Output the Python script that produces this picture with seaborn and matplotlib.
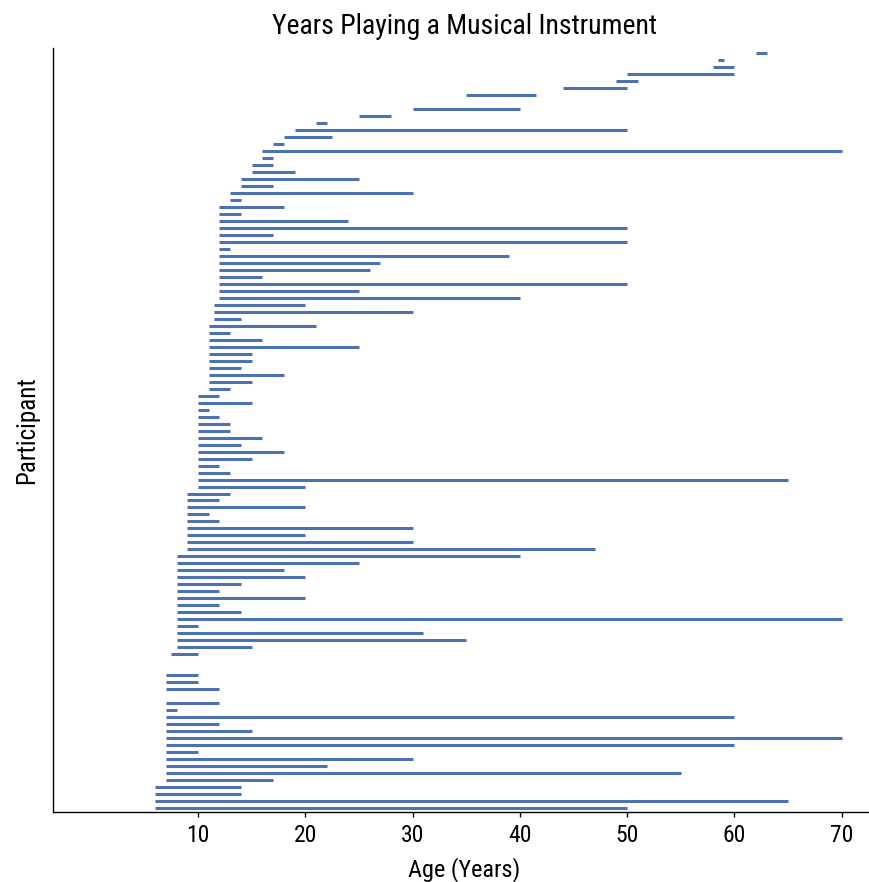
import numpy as np
import pandas as pd
import matplotlib
matplotlib.use("Agg")
import matplotlib.pyplot as plt
import seaborn as sns

# start / stop age for each participant, listed from the top row down
# (nan = participant with no instrument data)
start_age = [62, 58.5, 58, 50, 49, 44, 35, np.nan, 30, 25,
             21, 19, 18, 17, 16, 16, 15, 15, 14, 14,
             13, 13, 12, 12, 12, 12, 12, 12, 12, 12,
             12, 12, 12, 12, 12, 12, 11.5, 11.5, 11.5, 11,
             11, 11, 11, 11, 11, 11, 11, 11, 11, 10,
             10, 10, 10, 10, 10, 10, 10, 10, 10, 10,
             10, 10, 10, 9, 9, 9, 9, 9, 9, 9,
             9, 9, 8, 8, 8, 8, 8, 8, 8, 8,
             8, 8, 8, 8, 8, 8, 7.5, np.nan, np.nan, 7,
             7, 7, np.nan, 7, 7, 7, 7, 7, 7, 7,
             7, 7, 7, 7, 7, 6, 6, 6, 6]
stop_age = [63, 59, 60, 60, 51, 50, 41.5, np.nan, 40, 28,
            22, 50, 22.5, 18, 70, 17, 17, 19, 25, 17,
            30, 14, 18, 14, 24, 50, 17, 50, 13, 39,
            27, 26, 16, 50, 25, 40, 20, 30, 14, 21,
            13, 16, 25, 15, 15, 14, 18, 15, 13, 12,
            15, 11, 12, 13, 13, 16, 14, 18, 15, 12,
            13, 65, 20, 13, 12, 20, 11, 12, 30, 20,
            30, 47, 40, 25, 18, 20, 14, 12, 20, 12,
            14, 70, 10, 31, 35, 15, 10, np.nan, np.nan, 10,
            10, 12, np.nan, 12, 8, 60, 12, 15, 70, 60,
            10, 30, 22, 55, 17, 14, 14, 65, 50]

n = len(start_age)
df = pd.DataFrame({
    'participant': np.arange(n)[::-1],  # bottom row = participant 0
    'start': start_age,
    'stop': stop_age,
})

sns.set_style("ticks")
plt.rcParams['font.family'] = ['Roboto Condensed', 'Liberation Sans Narrow', 'Roboto', 'DejaVu Sans']
plt.rcParams['text.color'] = 'black'
plt.rcParams['axes.labelcolor'] = 'black'
plt.rcParams['xtick.color'] = 'black'

fig = plt.figure(figsize=(8.7, 8.82), dpi=100)
ax = fig.add_axes([0.0606, 0.079, 0.9463, 0.8662])

blue = sns.color_palette("deep")[0]
ax.hlines(df['participant'], df['start'], df['stop'], color=blue, linewidth=2.2)

ax.set_xlim(-3.54, 73.2)
ax.set_ylim(-0.57, n - 1 + 0.63)
ax.set_xticks([10, 20, 30, 40, 50, 60, 70])
ax.set_yticks([])
ax.tick_params(axis='x', length=3.5, width=1, labelsize=17, pad=5)
for s in ['left', 'bottom']:
    ax.spines[s].set_linewidth(1)
    ax.spines[s].set_color('black')
sns.despine(ax=ax)

ax.set_title('Years Playing a Musical Instrument', fontsize=20, pad=10)
ax.set_xlabel('Age (Years)', fontsize=17.5, labelpad=7)
ax.set_ylabel('Participant', fontsize=18, labelpad=10)

fig.savefig('out.png', dpi=100)
